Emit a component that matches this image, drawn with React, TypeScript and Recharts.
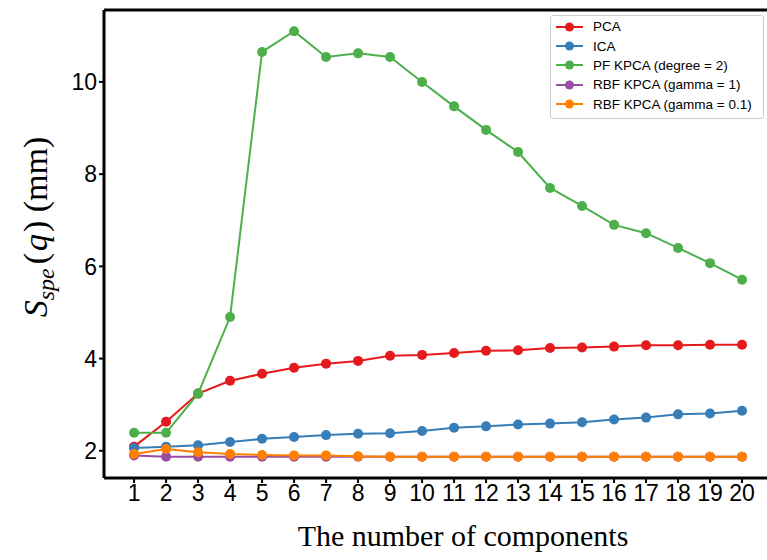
import { LineChart, Line, XAxis, YAxis, ReferenceLine } from "recharts"

// number of components (x axis)
const components = [1, 2, 3, 4, 5, 6, 7, 8, 9, 10, 11, 12, 13, 14, 15, 16, 17, 18, 19, 20]

// S_spe(q) in mm
const pca = [2.09, 2.63, 3.24, 3.52, 3.67, 3.8, 3.89, 3.95, 4.06, 4.08, 4.12, 4.17, 4.18, 4.23, 4.24, 4.26, 4.29, 4.29, 4.3, 4.3]
const ica = [2.06, 2.09, 2.12, 2.19, 2.26, 2.3, 2.34, 2.37, 2.38, 2.43, 2.5, 2.53, 2.57, 2.59, 2.62, 2.68, 2.72, 2.79, 2.81, 2.87]
const pfKpca = [2.39, 2.39, 3.24, 4.9, 10.65, 11.1, 10.54, 10.62, 10.54, 10.0, 9.47, 8.96, 8.48, 7.7, 7.31, 6.9, 6.72, 6.4, 6.07, 5.71]
const rbfGamma1 = [1.9, 1.87, 1.87, 1.87, 1.87, 1.87, 1.87, 1.87, 1.87, 1.87, 1.87, 1.87, 1.87, 1.87, 1.87, 1.87, 1.87, 1.87, 1.87, 1.87]
const rbfGamma01 = [1.93, 2.04, 1.97, 1.93, 1.91, 1.9, 1.9, 1.88, 1.87, 1.87, 1.87, 1.87, 1.87, 1.87, 1.87, 1.87, 1.87, 1.87, 1.87, 1.87]

const yTicks = [2, 4, 6, 8, 10]

const series = [
  { key: "pca", name: "PCA", color: "#e41a1c" },
  { key: "ica", name: "ICA", color: "#377eb8" },
  { key: "pf", name: "PF KPCA (degree = 2)", color: "#4daf4a" },
  { key: "rbf1", name: "RBF KPCA (gamma = 1)", color: "#984ea3" },
  { key: "rbf01", name: "RBF KPCA (gamma = 0.1)", color: "#ff7f00" },
]

const data = components.map((n, i) => ({
  n,
  pca: pca[i],
  ica: ica[i],
  pf: pfKpca[i],
  rbf1: rbfGamma1[i],
  rbf01: rbfGamma01[i],
}))

const sans = "'Liberation Sans', Arial, sans-serif"
const serif = "'Liberation Serif', 'Times New Roman', serif"
const Y_MAX = 11.56

// matplotlib-style legend box, sits over the top right of the plot
function LegendBox() {
  return (
    <div
      style={{
        position: "absolute",
        left: 550,
        top: 15,
        border: "1px solid #cccccc",
        borderRadius: 3,
        background: "#fff",
        padding: "1px 0 4px 0",
        width: 212,
        fontFamily: sans,
        fontSize: 13.5,
        color: "#000",
      }}
    >
      {series.map((s) => (
        <div key={s.key} style={{ display: "flex", alignItems: "center", height: 19.4 }}>
          <svg width={38} height={12} style={{ marginLeft: 4 }}>
            <line x1={1} y1={6} x2={28} y2={6} stroke={s.color} strokeWidth={2} />
            <circle cx={14.5} cy={6} r={4.5} fill={s.color} />
          </svg>
          <span>{s.name}</span>
        </div>
      ))}
    </div>
  )
}

export default function App() {
  return (
    <div style={{ position: "absolute", left: 0, top: 0, width: 767, height: 560, background: "#fff" }}>
      <LineChart width={767} height={560} data={data} margin={{ top: 10, right: 0, left: 0, bottom: 0 }}>
        <XAxis
          dataKey="n"
          type="number"
          domain={[0.06, 20.78]}
          ticks={components}
          interval={0}
          allowDataOverflow
          height={82}
          axisLine={{ stroke: "#000", strokeWidth: 3 }}
          tickLine={{ stroke: "#000", strokeWidth: 2 }}
          tickSize={5}
          tick={{ fill: "#000", fontSize: 23, fontFamily: sans }}
          label={{
            content: () => (
              <text x={463} y={546} textAnchor="middle" fontFamily={serif} fontSize={30} fill="#000">
                The number of components
              </text>
            ),
          }}
        />
        <YAxis
          type="number"
          domain={[1.41, Y_MAX]}
          ticks={yTicks}
          width={104}
          allowDataOverflow
          axisLine={{ stroke: "#000", strokeWidth: 3 }}
          tickLine={{ stroke: "#000", strokeWidth: 2 }}
          tickSize={5}
          tick={{ fill: "#000", fontSize: 23, fontFamily: sans }}
          label={{
            content: () => (
              <text transform="translate(47,227) rotate(-90)" textAnchor="middle" fontFamily={serif} fontSize={34} fill="#000">
                <tspan fontStyle="italic">S</tspan>
                <tspan fontStyle="italic" fontSize={24} dy={7}>spe</tspan>
                <tspan dy={-7} dx={4}>(</tspan>
                <tspan fontStyle="italic" dx={2}>q</tspan>
                <tspan dx={2}>)</tspan>
                <tspan> (mm)</tspan>
              </text>
            ),
          }}
        />
        <ReferenceLine y={Y_MAX} stroke="#000" strokeWidth={3} />
        {series.map((s) => (
          <Line
            key={s.key}
            type="linear"
            dataKey={s.key}
            name={s.name}
            stroke={s.color}
            strokeWidth={2}
            dot={{ r: 5, fill: s.color, stroke: s.color, strokeWidth: 0 }}
            activeDot={false}
            isAnimationActive={false}
          />
        ))}
      </LineChart>
      <LegendBox />
    </div>
  )
}
